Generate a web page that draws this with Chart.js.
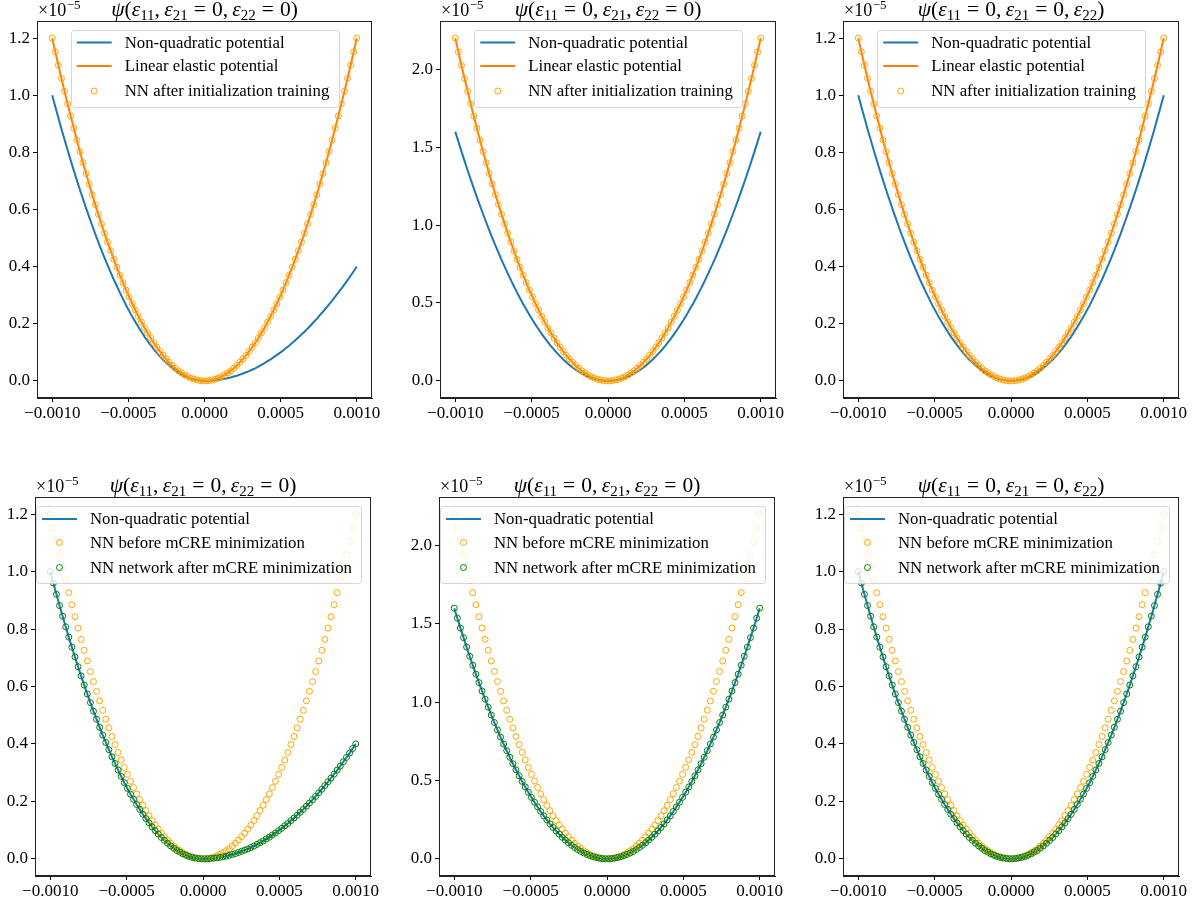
<!DOCTYPE html>
<html><head><meta charset="utf-8">
<script src="https://cdn.jsdelivr.net/npm/chart.js@4.4.1/dist/chart.umd.min.js"></script>
<style>
html,body{margin:0;padding:0;background:#fff;width:1200px;height:903px;overflow:hidden;position:relative;}
</style></head><body>
<script>
// ---------------- data ----------------
const strain = [
-0.001,-0.0009798,-0.0009596,-0.0009394,-0.0009192,-0.000899,-0.0008788,-0.0008586,-0.0008384,-0.0008182,
-0.000798,-0.0007778,-0.0007576,-0.0007374,-0.0007172,-0.000697,-0.0006768,-0.0006566,-0.0006364,-0.0006162,
-0.000596,-0.0005758,-0.0005556,-0.0005354,-0.0005152,-0.0004949,-0.0004747,-0.0004545,-0.0004343,-0.0004141,
-0.0003939,-0.0003737,-0.0003535,-0.0003333,-0.0003131,-0.0002929,-0.0002727,-0.0002525,-0.0002323,-0.0002121,
-0.0001919,-0.0001717,-0.0001515,-0.0001313,-0.0001111,-0.0000909,-0.0000707,-0.0000505,-0.0000303,-0.0000101,
0.0000101,0.0000303,0.0000505,0.0000707,0.0000909,0.0001111,0.0001313,0.0001515,0.0001717,0.0001919,
0.0002121,0.0002323,0.0002525,0.0002727,0.0002929,0.0003131,0.0003333,0.0003535,0.0003737,0.0003939,
0.0004141,0.0004343,0.0004545,0.0004747,0.0004949,0.0005152,0.0005354,0.0005556,0.0005758,0.000596,
0.0006162,0.0006364,0.0006566,0.0006768,0.000697,0.0007172,0.0007374,0.0007576,0.0007778,0.000798,
0.0008182,0.0008384,0.0008586,0.0008788,0.000899,0.0009192,0.0009394,0.0009596,0.0009798,0.001
];
const xTicks = [-0.001, -0.0005, 0, 0.0005, 0.001];
const yTicksSmall = [0, 0.2, 0.4, 0.6, 0.8, 1.0, 1.2];
const yTicksLarge = [0, 0.5, 1.0, 1.5, 2.0];

// values in units of 1e-5
const linearElastic11 = [
1.2,1.152,1.105,1.059,1.014,0.97,0.927,0.885,0.843,0.803,0.764,0.726,0.689,0.652,0.617,0.583,0.55,0.517,0.486,0.456,
0.426,0.398,0.37,0.344,0.318,0.294,0.27,0.248,0.226,0.206,0.186,0.168,0.15,0.133,0.118,0.103,0.089,0.077,0.065,0.054,
0.044,0.035,0.028,0.021,0.015,0.01,0.006,0.003,0.001,0,
0,0.001,0.003,0.006,0.01,0.015,0.021,0.028,0.035,0.044,0.054,0.065,0.077,0.089,0.103,0.118,0.133,0.15,0.168,0.186,
0.206,0.226,0.248,0.27,0.294,0.318,0.344,0.37,0.398,0.426,0.456,0.486,0.517,0.55,0.583,0.617,0.652,0.689,0.726,0.764,
0.803,0.843,0.885,0.927,0.97,1.014,1.059,1.105,1.152,1.2
];
const linearElastic21 = [
2.2,2.112,2.026,1.941,1.859,1.778,1.699,1.622,1.546,1.473,1.401,1.331,1.263,1.196,1.132,1.069,1.008,0.948,0.891,0.835,
0.781,0.729,0.679,0.631,0.584,0.539,0.496,0.455,0.415,0.377,0.341,0.307,0.275,0.244,0.216,0.189,0.164,0.14,0.119,0.099,
0.081,0.065,0.051,0.038,0.027,0.018,0.011,0.006,0.002,0,
0,0.002,0.006,0.011,0.018,0.027,0.038,0.051,0.065,0.081,0.099,0.119,0.14,0.164,0.189,0.216,0.244,0.275,0.307,0.341,
0.377,0.415,0.455,0.496,0.539,0.584,0.631,0.679,0.729,0.781,0.835,0.891,0.948,1.008,1.069,1.132,1.196,1.263,1.331,1.401,
1.473,1.546,1.622,1.699,1.778,1.859,1.941,2.026,2.112,2.2
];
const linearElastic22 = [
1.2,1.152,1.105,1.059,1.014,0.97,0.927,0.885,0.843,0.803,0.764,0.726,0.689,0.652,0.617,0.583,0.55,0.517,0.486,0.456,
0.426,0.398,0.37,0.344,0.318,0.294,0.27,0.248,0.226,0.206,0.186,0.168,0.15,0.133,0.118,0.103,0.089,0.077,0.065,0.054,
0.044,0.035,0.028,0.021,0.015,0.01,0.006,0.003,0.001,0,
0,0.001,0.003,0.006,0.01,0.015,0.021,0.028,0.035,0.044,0.054,0.065,0.077,0.089,0.103,0.118,0.133,0.15,0.168,0.186,
0.206,0.226,0.248,0.27,0.294,0.318,0.344,0.37,0.398,0.426,0.456,0.486,0.517,0.55,0.583,0.617,0.652,0.689,0.726,0.764,
0.803,0.843,0.885,0.927,0.97,1.014,1.059,1.105,1.152,1.2
];
const nonQuadratic11 = [
1,0.96,0.921,0.882,0.845,0.808,0.772,0.737,0.703,0.669,0.637,0.605,0.574,0.544,0.514,0.486,0.458,0.431,0.405,0.38,
0.355,0.332,0.309,0.287,0.265,0.245,0.225,0.207,0.189,0.172,0.155,0.14,0.125,0.111,0.098,0.086,0.074,0.064,0.054,0.045,
0.037,0.029,0.023,0.017,0.012,0.008,0.005,0.003,0.001,0,
0,0,0.001,0.002,0.003,0.005,0.007,0.009,0.012,0.015,0.018,0.022,0.026,0.03,0.034,0.039,0.044,0.05,0.056,0.062,
0.069,0.075,0.083,0.09,0.098,0.106,0.115,0.123,0.133,0.142,0.152,0.162,0.172,0.183,0.194,0.206,0.217,0.23,0.242,0.255,
0.268,0.281,0.295,0.309,0.323,0.338,0.353,0.368,0.384,0.4
];
const nonQuadratic21 = [
1.6,1.536,1.473,1.412,1.352,1.293,1.236,1.179,1.125,1.071,1.019,0.968,0.918,0.87,0.823,0.777,0.733,0.69,0.648,0.607,
0.568,0.53,0.494,0.459,0.425,0.392,0.361,0.331,0.302,0.274,0.248,0.223,0.2,0.178,0.157,0.137,0.119,0.102,0.086,0.072,
0.059,0.047,0.037,0.028,0.02,0.013,0.008,0.004,0.001,0,
0,0.001,0.004,0.008,0.013,0.02,0.028,0.037,0.047,0.059,0.072,0.086,0.102,0.119,0.137,0.157,0.178,0.2,0.223,0.248,
0.274,0.302,0.331,0.361,0.392,0.425,0.459,0.494,0.53,0.568,0.607,0.648,0.69,0.733,0.777,0.823,0.87,0.918,0.968,1.019,
1.071,1.125,1.179,1.236,1.293,1.352,1.412,1.473,1.536,1.6
];
const nonQuadratic22 = [
1,0.96,0.921,0.882,0.845,0.808,0.772,0.737,0.703,0.669,0.637,0.605,0.574,0.544,0.514,0.486,0.458,0.431,0.405,0.38,
0.355,0.332,0.309,0.287,0.265,0.245,0.225,0.207,0.189,0.172,0.155,0.14,0.125,0.111,0.098,0.086,0.074,0.064,0.054,0.045,
0.037,0.029,0.023,0.017,0.012,0.008,0.005,0.003,0.001,0,
0,0.001,0.003,0.005,0.008,0.012,0.017,0.023,0.029,0.037,0.045,0.054,0.064,0.074,0.086,0.098,0.111,0.125,0.14,0.155,
0.172,0.189,0.207,0.225,0.245,0.265,0.287,0.309,0.332,0.355,0.38,0.405,0.431,0.458,0.486,0.514,0.544,0.574,0.605,0.637,
0.669,0.703,0.737,0.772,0.808,0.845,0.882,0.921,0.96,1
];
// NN predictions (read as lying on the corresponding curves)
const nnInit11 = linearElastic11, nnInit21 = linearElastic21, nnInit22 = linearElastic22;
const nnAfter11 = nonQuadratic11, nnAfter21 = nonQuadratic21, nnAfter22 = nonQuadratic22;

const labelNonQuad = 'Non-quadratic potential';
const labelLinear = 'Linear elastic potential';
const labelInit = 'NN after initialization training';
const labelBefore = 'NN before mCRE minimization';
const labelAfter = 'NN network after mCRE minimization';

// ---------------- styling / layout ----------------
const SERIF = '"Liberation Serif", "Times New Roman", serif';
const C_BLUE = '#1f77b4', C_ORANGE = '#ff7f0e', C_MARK = '#ffa500', C_GREEN = '#008000';
const TICK_FONT = 17, LEG_FONT = 16.8, TITLE_FONT = 21.5;

const titleE11 = [{sub:'11', zero:false},{sub:'21', zero:true},{sub:'22', zero:true}];
const titleE21 = [{sub:'11', zero:true},{sub:'21', zero:false},{sub:'22', zero:true}];
const titleE22 = [{sub:'11', zero:true},{sub:'21', zero:true},{sub:'22', zero:false}];

function lineSet(label, values, color, order){ return {label, values, color, kind:'line', order}; }
function markSet(label, values, color, order){ return {label, values, color, kind:'mark', order}; }

const panels = [
 {area:[37,21,372,398], title:titleE11, yTicks:yTicksSmall, ymin:-0.06, ymax:1.26, legend:{align:'center', dy:8.5},
  series:[lineSet(labelNonQuad, nonQuadratic11, C_BLUE, 3), lineSet(labelLinear, linearElastic11, C_ORANGE, 2), markSet(labelInit, nnInit11, C_MARK, 1)]},
 {area:[440,21,776,398], title:titleE21, yTicks:yTicksLarge, ymin:-0.11, ymax:2.31, legend:{align:'center', dy:8.5},
  series:[lineSet(labelNonQuad, nonQuadratic21, C_BLUE, 3), lineSet(labelLinear, linearElastic21, C_ORANGE, 2), markSet(labelInit, nnInit21, C_MARK, 1)]},
 {area:[843,21,1179,398], title:titleE22, yTicks:yTicksSmall, ymin:-0.06, ymax:1.26, legend:{align:'center', dy:8.5},
  series:[lineSet(labelNonQuad, nonQuadratic22, C_BLUE, 3), lineSet(labelLinear, linearElastic22, C_ORANGE, 2), markSet(labelInit, nnInit22, C_MARK, 1)]},
 {area:[35,497,371,876], title:titleE11, yTicks:yTicksSmall, ymin:-0.06, ymax:1.26, legend:{align:'left', dx:1, dy:9},
  series:[lineSet(labelNonQuad, nonQuadratic11, C_BLUE, 3), markSet(labelBefore, nnInit11, C_MARK, 2), markSet(labelAfter, nnAfter11, C_GREEN, 1)]},
 {area:[439,497,775,876], title:titleE21, yTicks:yTicksLarge, ymin:-0.11, ymax:2.31, legend:{align:'left', dx:1, dy:9},
  series:[lineSet(labelNonQuad, nonQuadratic21, C_BLUE, 3), markSet(labelBefore, nnInit21, C_MARK, 2), markSet(labelAfter, nnAfter21, C_GREEN, 1)]},
 {area:[843,497,1179,876], title:titleE22, yTicks:yTicksSmall, ymin:-0.06, ymax:1.26, legend:{align:'left', dx:1, dy:9},
  series:[lineSet(labelNonQuad, nonQuadratic22, C_BLUE, 3), markSet(labelBefore, nnInit22, C_MARK, 2), markSet(labelAfter, nnAfter22, C_GREEN, 1)]}
];

function drawTitle(ctx, cx, baseline, parts, size){
  const it = `italic ${size}px ${SERIF}`, rm = `${size}px ${SERIF}`, sb = `${Math.round(size*0.7)}px ${SERIF}`;
  const segs = [{t:'\u03C8', f:it}, {t:'(', f:rm}];
  parts.forEach((p,i)=>{
    if(i>0){ segs.push({t:',', f:rm}); segs.push({gap:size*0.2}); }
    segs.push({t:'\u03B5', f:it}); segs.push({t:p.sub, f:sb, dy:size*0.22});
    if(p.zero){ segs.push({gap:size*0.28}); segs.push({t:'=', f:rm}); segs.push({gap:size*0.28}); segs.push({t:'0', f:rm}); }
  });
  segs.push({t:')', f:rm});
  let total = 0;
  segs.forEach(s=>{ if(s.gap){ s.w = s.gap; } else { ctx.font = s.f; s.w = ctx.measureText(s.t).width; } total += s.w; });
  let x = cx - total/2;
  ctx.fillStyle = '#000'; ctx.textBaseline = 'alphabetic'; ctx.textAlign = 'left';
  segs.forEach(s=>{ if(!s.gap){ ctx.font = s.f; ctx.fillText(s.t, x, baseline + (s.dy||0)); } x += s.w; });
}

function roundRect(ctx, x, y, w, h, r){
  ctx.beginPath();
  ctx.moveTo(x+r, y); ctx.lineTo(x+w-r, y); ctx.quadraticCurveTo(x+w, y, x+w, y+r);
  ctx.lineTo(x+w, y+h-r); ctx.quadraticCurveTo(x+w, y+h, x+w-r, y+h);
  ctx.lineTo(x+r, y+h); ctx.quadraticCurveTo(x, y+h, x, y+h-r);
  ctx.lineTo(x, y+r); ctx.quadraticCurveTo(x, y, x+r, y); ctx.closePath();
}

const decorPlugin = {
  id: 'mplDecor',
  afterDatasetsDraw(chart, args, opts){
    const ctx = chart.ctx, a = chart.chartArea;
    ctx.save();
    // axes frame (all four spines)
    ctx.strokeStyle = '#222'; ctx.lineWidth = 1;
    ctx.strokeRect(Math.round(a.left)+0.5, Math.round(a.top)+0.5, Math.round(a.right-a.left)-1, Math.round(a.bottom-a.top)-1);
    // legend
    const ds = chart.data.datasets;
    ctx.font = `${LEG_FONT}px ${SERIF}`;
    const tw = Math.max(...ds.map(d=>ctx.measureText(d.label).width));
    const w = 54 + tw + 9, h = 77;
    const lg = opts.legend;
    const x0 = lg.align === 'center' ? (a.left + a.right)/2 - w/2 : a.left + lg.dx;
    const y0 = a.top + lg.dy;
    roundRect(ctx, Math.round(x0)+0.5, Math.round(y0)+0.5, Math.round(w), h, 3);
    ctx.fillStyle = 'rgba(255,255,255,0.8)'; ctx.fill();
    ctx.strokeStyle = 'rgba(204,204,204,0.8)'; ctx.lineWidth = 1; ctx.stroke();
    const rows = [13, 36.5, 61.5];
    ds.forEach((d,i)=>{
      const y = y0 + rows[i];
      if(d.showLine){
        ctx.strokeStyle = d.borderColor; ctx.lineWidth = 2;
        ctx.beginPath(); ctx.moveTo(x0+6, y); ctx.lineTo(x0+41, y); ctx.stroke();
      } else {
        ctx.strokeStyle = d.pointBorderColor; ctx.lineWidth = 1;
        ctx.beginPath(); ctx.arc(x0+23.5, y, 3, 0, Math.PI*2); ctx.stroke();
      }
      ctx.font = `${LEG_FONT}px ${SERIF}`;
      ctx.fillStyle = '#000'; ctx.textBaseline = 'middle'; ctx.textAlign = 'left';
      ctx.fillText(d.label, x0+54, y+1);
    });
    // title
    drawTitle(ctx, (a.left+a.right)/2, a.top - 5.5, opts.title, TITLE_FONT);
    // offset text  x10^-5
    ctx.fillStyle = '#000'; ctx.textBaseline = 'alphabetic'; ctx.textAlign = 'left';
    ctx.font = `18px ${SERIF}`;
    const base = '\u00D710';
    ctx.fillText(base, a.left+1, a.top - 5);
    const bw = ctx.measureText(base).width;
    ctx.font = `13px ${SERIF}`;
    ctx.fillText('\u22125', a.left+1+bw+0.5, a.top - 12);
    ctx.restore();
  }
};

function fmtX(v){ const s = Math.abs(v).toFixed(4); return v < 0 ? '\u2212' + s : s; }
function fmtY(v){ return v.toFixed(1); }

panels.forEach(p=>{
  const [L,T,R,B] = p.area;
  const padL = 46, padT = 26, padR = 26, padB = 32;
  const W = R-L+padL+padR, H = B-T+padT+padB;
  const wrap = document.createElement('div');
  wrap.style.cssText = `position:absolute;left:${L-padL}px;top:${T-padT}px;width:${W}px;height:${H}px;`;
  const cv = document.createElement('canvas');
  cv.width = W; cv.height = H; cv.style.width = W+'px'; cv.style.height = H+'px';
  wrap.appendChild(cv); document.body.appendChild(wrap);
  const datasets = p.series.map(s=>{
    const base = { label:s.label, order:s.order, data: strain.map((x,i)=>({x, y:s.values[i]})) };
    if(s.kind==='line') return Object.assign(base, {borderColor:s.color, backgroundColor:s.color, borderWidth:2, pointRadius:0, pointHoverRadius:0, showLine:true, tension:0});
    return Object.assign(base, {showLine:false, borderColor:s.color, backgroundColor:'rgba(0,0,0,0)', pointRadius:3, pointHoverRadius:3,
      pointBorderColor:s.color, pointBackgroundColor:'rgba(0,0,0,0)', pointBorderWidth:1, pointStyle:'circle'});
  });
  const tickFont = {family: SERIF, size: TICK_FONT};
  new Chart(cv, {
    type:'line',
    data:{datasets},
    plugins:[decorPlugin],
    options:{
      responsive:false, animation:false, events:[],
      layout:{padding:{left:0, top:padT, right:padR, bottom:0}},
      plugins:{legend:{display:false}, tooltip:{enabled:false}, mplDecor:{legend:p.legend, title:p.title}},
      scales:{
        x:{type:'linear', min:-0.0011, max:0.0011,
           afterBuildTicks:s=>{ s.ticks = xTicks.map(v=>({value:v})); },
           afterFit:s=>{ s.height = padB; },
           ticks:{callback:fmtX, font:tickFont, color:'#000', padding:1, maxRotation:0, autoSkip:false},
           grid:{drawOnChartArea:false, drawTicks:true, tickLength:4, tickColor:'#000', tickWidth:1},
           border:{display:true, color:'#222', width:1}},
        y:{type:'linear', min:p.ymin, max:p.ymax,
           afterBuildTicks:s=>{ s.ticks = p.yTicks.map(v=>({value:v})); },
           afterFit:s=>{ s.width = padL; },
           ticks:{callback:fmtY, font:tickFont, color:'#000', padding:3, autoSkip:false},
           grid:{drawOnChartArea:false, drawTicks:true, tickLength:4, tickColor:'#000', tickWidth:1},
           border:{display:true, color:'#222', width:1}}
      }
    }
  });
});
</script>
</body></html>
